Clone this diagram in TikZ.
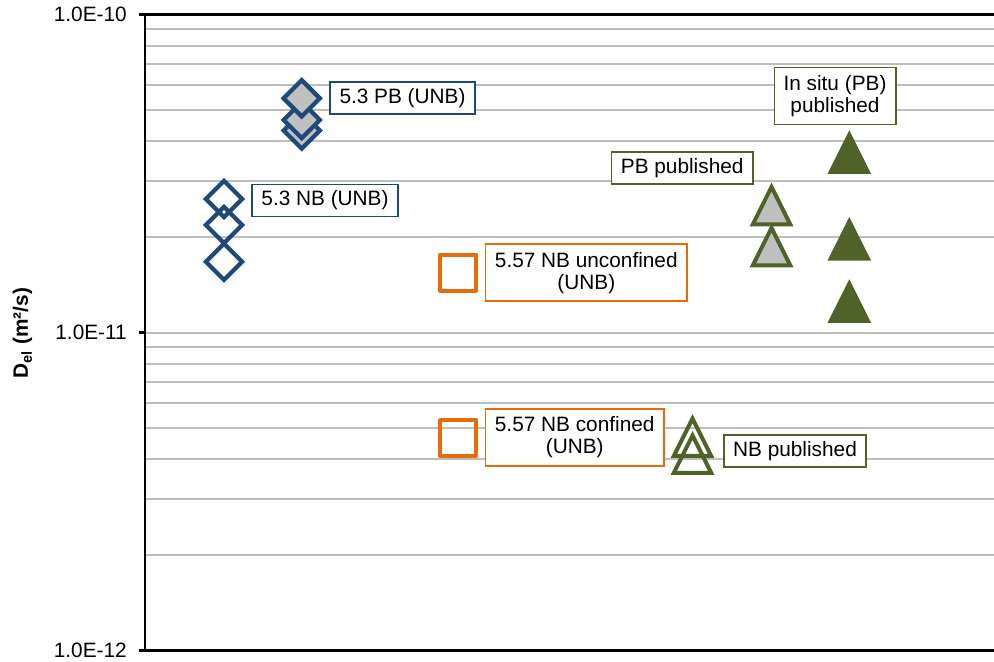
\documentclass[tikz,border=0pt]{standalone}
\usepackage{fontspec}
\setmainfont{Liberation Sans}
\usetikzlibrary{shapes.geometric, positioning}

\definecolor{serblue}{HTML}{1F497D}
\definecolor{serorange}{HTML}{E46C0A}
\definecolor{sergreen}{HTML}{4F6228}
\definecolor{markgray}{HTML}{C0C0C0}
\definecolor{gridgray}{HTML}{BEBEBE}

\begin{document}
\begin{tikzpicture}[x=0.75pt, y=238.5pt,
    every node/.style={font=\fontsize{15.6}{16.5}\selectfont},
    grid/.style={draw=gridgray, line width=1.5pt},
    ax/.style={line width=1.9pt},
    dia/.style={diamond, draw=serblue, line width=3.2pt, minimum width=28.5pt, minimum height=28.5pt, inner sep=0pt},
    sq/.style={rectangle, draw=serorange, line width=3pt, minimum size=27pt, inner sep=0pt, line join=round},
    tri/.style={isosceles triangle, isosceles triangle stretches, shape border rotate=90, draw=sergreen, line width=3pt, minimum width=28pt, minimum height=28pt, inner sep=0pt, anchor=south},
    lab/.style={draw, fill=white, line width=1.1pt, inner xsep=7pt, inner ysep=0pt, minimum height=24pt, align=center}]
    \useasboundingbox (0,-0.03239) rectangle (994,2.04623);

    % grid, one decade per unit (0 = 1.0E-12)
    \foreach \d in {0,1}
        \foreach \m in {2,...,9}
            \draw[grid] (145,{\d+log10(\m)}) -- (994,{\d+log10(\m)});
    \draw[grid] (145,1) -- (994,1);

    % axes
    \draw[ax] (994,2) -- (145,2) -- (145,0) -- (994,0);
    \foreach \d/\e in {0/12,1/11,2/10} {
        \draw[ax] (139,\d) -- (145,\d);
        \node[anchor=east, inner sep=0pt] (tick\e) at (127,\d) {1.0E-\e};
    }
    \node[rotate=90, font=\bfseries\fontsize{15.6}{16.5}\selectfont] (ytitle) at (22.5,0.999) {D\textsubscript{el} (m²/s)};

    % 5.3 NB (UNB)
    \node[dia] (NB1) at (224,1.4204) {};
    \node[dia] (NB2) at (224,1.3387) {};
    \node[dia] (NB3) at (224,1.2233) {};
    % 5.3 PB (UNB)
    \node[dia, fill=markgray] (PB3) at (301.7,1.6358) {};
    \node[dia, fill=markgray] (PB2) at (301.7,1.6689) {};
    \node[dia, fill=markgray] (PB1) at (301.7,1.7370) {};
    % 5.57 NB
    \node[sq] (UC) at (458.3,1.1893) {};
    \node[sq] (CF) at (458.3,0.6679) {};
    % published
    \node[tri] (NBP1) at (692.5,0.6060) {};
    \node[tri] (NBP2) at (692.5,0.5531) {};
    \node[tri, fill=markgray] (PBP2) at (771.5,1.2057) {};
    \node[tri, fill=markgray] (PBP1) at (771.5,1.3346) {};
    \node[tri, fill=sergreen] (IS1) at (849.3,1.4991) {};
    \node[tri, fill=sergreen] (IS2) at (849.3,1.2264) {};
    \node[tri, fill=sergreen] (IS3) at (849.3,1.0305) {};

    % labels
    \node[lab, draw=serblue] (labPB) at (402.5,1.7374) {5.3 PB (UNB)};
    \node[lab, draw=serblue] (labNB) at (325,1.4164) {5.3 NB (UNB)};
    \node[lab, draw=serorange, minimum height=42.75pt] (labUC) at (586.3,1.1887) {5.57 NB unconfined\\(UNB)};
    \node[lab, draw=serorange, minimum height=42.75pt] (labCF) at (574.7,0.6704) {5.57 NB confined\\(UNB)};
    \node[lab, draw=sergreen] (labNBP) at (795,0.6286) {NB published};
    \node[lab, draw=sergreen] (labPBP) at (682.2,1.5179) {PB published};
    \node[lab, draw=sergreen, minimum height=42.75pt] (labIS) at (835,1.7450) {In situ (PB)\\published};
\end{tikzpicture}
\end{document}
